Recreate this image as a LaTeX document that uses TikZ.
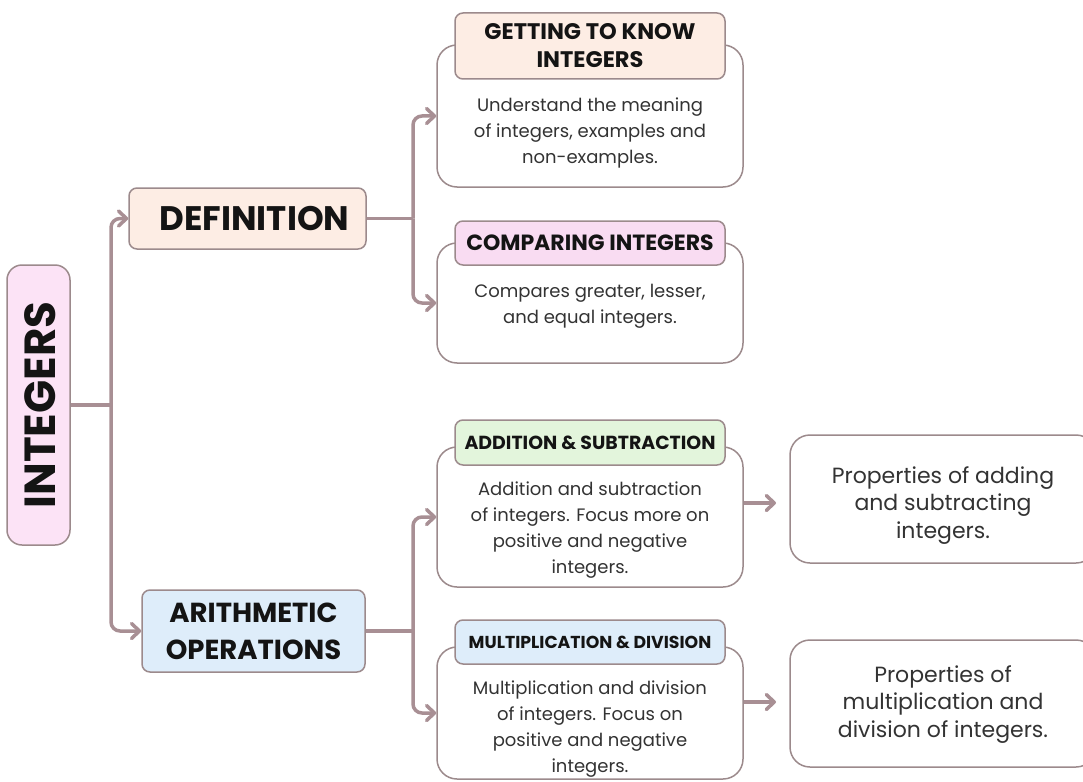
\documentclass[tikz,border=0pt]{standalone}
\usepackage{fontspec}
\setmainfont{Poppins}
\usetikzlibrary{arrows.meta}
\definecolor{ln}{HTML}{A88F94}
\definecolor{bd}{HTML}{9C8A8C}
\definecolor{pinkf}{HTML}{FCE3F6}
\definecolor{peach}{HTML}{FDEDE4}
\definecolor{pinkh}{HTML}{F9DCF2}
\definecolor{greenh}{HTML}{E3F5DC}
\definecolor{blueh}{HTML}{DEEDFA}
\definecolor{txt}{HTML}{141414}
\definecolor{bodyc}{HTML}{333333}
\begin{document}
\begin{tikzpicture}[x=1pt,y=-1pt,
  conn/.style={draw=ln, line width=3.5pt, rounded corners=9pt},
  arr/.style={-{Straight Barb[length=8pt,width=15pt,round]}},
  outer/.style={draw=bd, line width=1.5pt, fill=white, rounded corners=20pt, inner sep=0pt},
  hdr/.style={draw=bd, line width=1.5pt, rounded corners=8pt, inner sep=0pt, text=txt, align=center},
  bodytxt/.style={text=bodyc, align=center, inner sep=0pt, font=\fontsize{18}{26}\selectfont},
  proptxt/.style={text=bodyc, align=center, inner sep=0pt, font=\fontsize{22}{27.5}\selectfont}
]
\useasboundingbox (0,0) rectangle (1083,781);
\clip (0,0) rectangle (1083,781);
\fill[white] (0,0) rectangle (1083,781);

% root
\node[hdr, fill=pinkf, rounded corners=15pt, minimum width=63pt, minimum height=280pt] (integers) at (38.5,405) {};
\node[rotate=90, text=txt, inner sep=0pt, font=\fontsize{43.5}{43.5}\selectfont\bfseries] (intlabel) at (40,405) {INTEGERS};

% level 1
\node[hdr, fill=peach, minimum width=237pt, minimum height=61pt, font=\fontsize{34}{34}\selectfont\bfseries] (def) at (247.5,218.5) {\hspace{14pt}DEFINITION};
\node[hdr, fill=blueh, minimum width=223pt, minimum height=82pt, font=\fontsize{27.5}{37}\selectfont\bfseries] (arith) at (253.5,631) {ARITHMETIC\\OPERATIONS};

% level 2 boxes
\node[outer, minimum width=306pt, minimum height=142pt] (get) at (590,116) {};
\node[hdr, fill=peach, minimum width=270pt, minimum height=66pt, font=\fontsize{22.5}{28}\selectfont\bfseries] (geth) at (590,46) {GETTING TO KNOW\\INTEGERS};
\node[bodytxt, anchor=base] (getb) at (590,163) {Understand the meaning\\of integers, examples and\\non-examples.};

\node[outer, minimum width=306pt, minimum height=120pt] (cmp) at (590,303) {};
\node[hdr, fill=pinkh, minimum width=270pt, minimum height=44pt, font=\fontsize{22}{22}\selectfont\bfseries] (cmph) at (590,243) {COMPARING INTEGERS};
\node[bodytxt, anchor=base] (cmpb) at (590,323) {Compares greater, lesser,\\and equal integers.};

\node[outer, minimum width=306pt, minimum height=140pt] (add) at (590,517) {};
\node[hdr, fill=greenh, minimum width=270pt, minimum height=45pt, font=\fontsize{18.9}{18.9}\selectfont\bfseries] (addh) at (590,442.5) {ADDITION \& SUBTRACTION};
\node[bodytxt, anchor=base] (addb) at (590,573) {Addition and subtraction\\of integers. Focus more on\\positive and negative\\integers.};

\node[outer, minimum width=306pt, minimum height=132pt] (mul) at (590,713) {};
\node[hdr, fill=blueh, minimum width=270pt, minimum height=44pt, font=\fontsize{17.3}{17.3}\selectfont\bfseries] (mulh) at (590,642) {MULTIPLICATION \& DIVISION};
\node[bodytxt, anchor=base] (mulb) at (590,772) {Multiplication and division\\of integers. Focus on\\positive and negative\\integers.};

% level 3
\node[outer, minimum width=306pt, minimum height=128pt] (p1) at (943,499) {};
\node[proptxt, anchor=base] (p1t) at (943,538) {Properties of adding\\and subtracting\\integers.};
\node[outer, minimum width=306pt, minimum height=127pt] (p2) at (943,703.5) {};
\node[proptxt, anchor=base] (p2t) at (943,737) {Properties of\\multiplication and\\division of integers.};

% junctions
\coordinate (j1) at (111,405);
\coordinate (j2) at (413,218.5);
\coordinate (j3) at (413,631);

\draw[conn] (integers.east) -- (j1);
\draw[conn, arr] (j1) |- (def.west);
\draw[conn, arr] (j1) |- (arith.west);

\draw[conn] (def.east) -- (j2);
\draw[conn, arr] (j2) |- (get.west);
\draw[conn, arr] (j2) |- (cmp.west);

\draw[conn] (arith.east) -- (j3);
\draw[conn, arr] (j3) |- (add.west);
\draw[conn, arr] (j3) |- (mul.west);

\coordinate (e1) at (776,503);
\coordinate (e2) at (776,702);
\draw[conn, arr] (add.east |- e1) -- (e1);
\draw[conn, arr] (mul.east |- e2) -- (e2);
\end{tikzpicture}
\end{document}
